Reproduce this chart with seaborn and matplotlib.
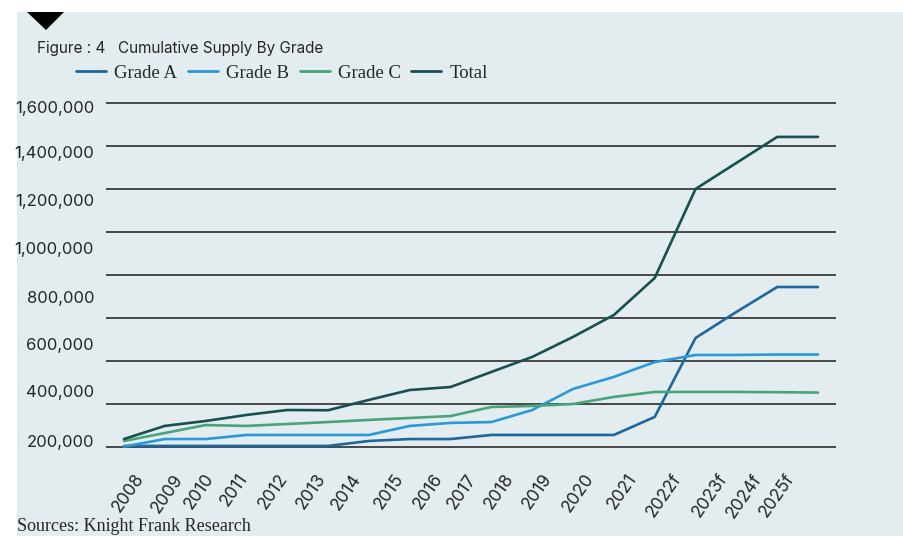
import numpy as np
import pandas as pd
import matplotlib
matplotlib.use("Agg")
import matplotlib.pyplot as plt
from matplotlib.patches import Polygon, Rectangle
from matplotlib.lines import Line2D
import seaborn as sns

# ---- data -------------------------------------------------------------
years = ["2008", "2009", "2010", "2011", "2012", "2013", "2014", "2015", "2016",
         "2017", "2018", "2019", "2020", "2021", "2022f", "2023f", "2024f", "2025f"]
grade_a = [5000, 5000, 5000, 5000, 5000, 5000, 28000, 37000, 37000,
           56000, 56000, 56000, 56000, 140000, 507000, 628000, 744000, 744000]
grade_b = [2000, 37000, 37000, 56000, 56000, 56000, 56000, 98000, 112000,
           116000, 172000, 270000, 326000, 395000, 428000, 428000, 430000, 430000]
grade_c = [28000, 65000, 102000, 98000, 107000, 116000, 126000, 135000, 144000,
           186000, 191000, 200000, 233000, 256000, 256000, 256000, 255000, 253000]
total = [37000, 98000, 121000, 149000, 172000, 171000, 219000, 265000, 279000,
         349000, 419000, 512000, 614000, 786000, 1200000, 1321000, 1442000, 1442000]
series_names = ["Grade A", "Grade B", "Grade C", "Total"]
y_labels = ["200,000", "400,000", "600,000", "800,000",
            "1,000,000", "1,200,000", "1,400,000", "1,600,000"]
grid_values = [0, 200000, 400000, 600000, 800000, 1000000, 1200000, 1400000, 1600000]

# ---- style ------------------------------------------------------------
BG = "#e3ecee"
TEXT = "#262626"
palette = {"Grade A": "#1d679e", "Grade B": "#2a9ad7",
           "Grade C": "#47a47d", "Total": "#17504f"}
SANS = ["Inter", "DejaVu Sans"]
SERIF = ["Liberation Serif", "DejaVu Serif"]
# label anchors along each axis (layout only)
ytick_pos = [28000, 260000, 479000, 698000, 926000, 1149000, 1372000, 1581000]
xtick_pos = [0.25, 1.20, 1.96, 2.79, 3.77, 4.70, 5.56, 6.59, 7.57, 8.38,
             9.29, 10.22, 11.25, 12.30, 13.40, 14.53, 15.36, 16.17]

sns.set_theme(style="white")
plt.rcParams["font.family"] = SANS

W, H = 904, 536
fig = plt.figure(figsize=(W / 100, H / 100), dpi=100, facecolor="white")
fig.patches.append(Rectangle((17 / W, 0), 1 - 17 / W, (H - 12) / H,
                             transform=fig.transFigure, facecolor=BG,
                             edgecolor="none", zorder=-10))
fig.patches.append(Polygon([[27 / W, (H - 12) / H], [64 / W, (H - 12) / H],
                            [46 / W, (H - 30) / H]], closed=True,
                           transform=fig.transFigure, facecolor="black",
                           edgecolor="none", zorder=-5))

ax = fig.add_axes([106 / W, 0.150, 730 / W, 0.674])
ax.set_facecolor("none")

df = pd.DataFrame({
    "idx": np.tile(np.arange(len(years)), len(series_names)),
    "series": np.repeat(series_names, len(years)),
    "value": grade_a + grade_b + grade_c + total,
})
sns.lineplot(data=df, x="idx", y="value", hue="series", hue_order=series_names,
             palette=palette, linewidth=1.9, ax=ax, legend=False, sort=False,
             zorder=3)

ax.set_xlim(-0.44, 17.44)
ax.set_ylim(-40000, 1640000)
for s in ax.spines.values():
    s.set_visible(False)

ax.set_yticks(grid_values, minor=True)
ax.set_yticks(ytick_pos, labels=y_labels)
ax.grid(False)
ax.grid(which="minor", axis="y", color="#3a3a3a", linewidth=1.3, zorder=1)
ax.tick_params(axis="y", which="both", length=0, pad=8.6, labelsize=12,
               labelcolor=TEXT)

ax.set_xticks(xtick_pos, labels=years)
ax.tick_params(axis="x", length=0, pad=11, labelsize=12.5, labelcolor=TEXT)
for lab in ax.get_xticklabels():
    lab.set_rotation(55)
    lab.set_ha("right")
    lab.set_va("top")
    lab.set_rotation_mode("anchor")
ax.set_xlabel("")
ax.set_ylabel("")

# title
fig.text(37 / W, 1 - 49 / H, "Figure : 4", fontsize=11, color=TEXT,
         va="center", ha="left", family=SANS)
fig.text(118 / W, 1 - 49 / H, "Cumulative Supply By Grade", fontsize=11,
         color=TEXT, va="center", ha="left", family=SANS)

# legend
handles = [Line2D([0], [0], color=palette[n], lw=2.0) for n in series_names]
fig.legend(handles, series_names, loc="center left",
           bbox_to_anchor=(76 / W, 1 - 73 / H), ncol=4, frameon=False,
           handlelength=1.6, handletextpad=0.45, columnspacing=0.55,
           borderaxespad=0, borderpad=0,
           prop={"family": SERIF, "size": 13.5}, labelcolor=TEXT)

# source
fig.text(17 / W, 5 / H, "Sources: Knight Frank Research", fontsize=13,
         color=TEXT, va="baseline", ha="left", family=SERIF)

fig.savefig("out.png", dpi=100, facecolor=fig.get_facecolor())
